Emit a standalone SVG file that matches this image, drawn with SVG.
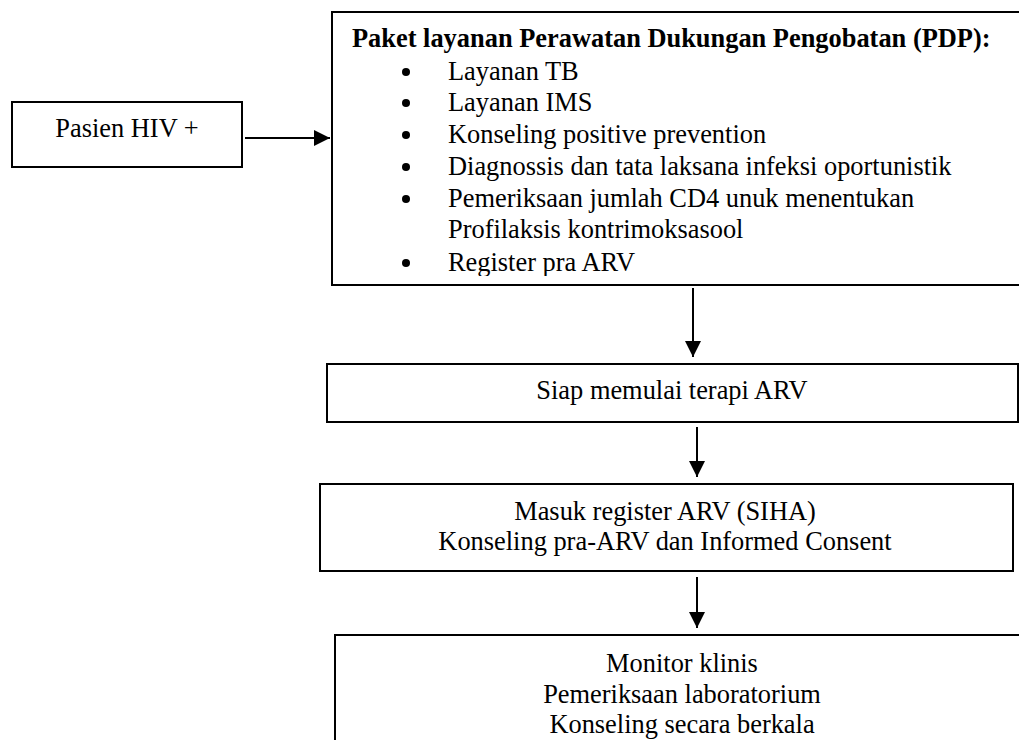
<svg xmlns="http://www.w3.org/2000/svg" width="1019" height="740" viewBox="0 0 1019 740">
  <style>
    .box { fill: #ffffff; stroke: #000000; stroke-width: 2; }
    .t { font-family: "Liberation Serif", "Times New Roman", serif; font-size: 26.4px; fill: #000000; }
    .b { font-weight: bold; }
    .c { text-anchor: middle; }
    .conn { stroke: #000000; stroke-width: 2; fill: none; }
    .dot { fill: #000000; }
  </style>
  <defs>
    <marker id="arrow" viewBox="0 0 16 16" refX="16" refY="8" markerWidth="16" markerHeight="16" markerUnits="userSpaceOnUse" orient="auto">
      <path d="M0,0 L16,8 L0,16 Z" fill="#000000"/>
    </marker>
    <clipPath id="pdpClip">
      <rect x="332" y="12" width="700" height="264"/>
    </clipPath>
  </defs>
  <rect x="0" y="0" width="1019" height="740" fill="#ffffff"/>

  <g id="connectors">
    <line class="conn" x1="245" y1="138" x2="330" y2="138" marker-end="url(#arrow)"/>
    <line class="conn" x1="693" y1="288" x2="693" y2="357" marker-end="url(#arrow)"/>
    <line class="conn" x1="697" y1="427" x2="697" y2="477" marker-end="url(#arrow)"/>
    <line class="conn" x1="697" y1="577" x2="697" y2="628" marker-end="url(#arrow)"/>
  </g>

  <g id="node-pasien">
    <rect class="box" x="12" y="102" width="230" height="65"/>
    <text class="t c" x="127" y="137">Pasien HIV +</text>
  </g>

  <g id="node-pdp">
    <rect class="box" x="332" y="12" width="700" height="273"/>
    <g clip-path="url(#pdpClip)">
      <text class="t b" x="352" y="47">Paket layanan Perawatan Dukungan Pengobatan (PDP):</text>
      <circle class="dot" cx="406" cy="72" r="4"/>
      <text class="t" x="448" y="80">Layanan TB</text>
      <circle class="dot" cx="406" cy="103" r="4"/>
      <text class="t" x="448" y="111">Layanan IMS</text>
      <circle class="dot" cx="406" cy="135" r="4"/>
      <text class="t" x="448" y="143">Konseling positive prevention</text>
      <circle class="dot" cx="406" cy="167" r="4"/>
      <text class="t" x="448" y="175">Diagnossis dan tata laksana infeksi oportunistik</text>
      <circle class="dot" cx="406" cy="199" r="4"/>
      <text class="t" x="448" y="207">Pemeriksaan jumlah CD4 unuk menentukan</text>
      <text class="t" x="448" y="238">Profilaksis kontrimoksasool</text>
      <circle class="dot" cx="406" cy="263" r="4"/>
      <text class="t" x="448" y="271">Register pra ARV</text>
    </g>
  </g>

  <g id="node-siap">
    <rect class="box" x="327" y="364" width="691" height="58"/>
    <text class="t c" x="672" y="399">Siap memulai terapi ARV</text>
  </g>

  <g id="node-masuk">
    <rect class="box" x="320" y="484" width="693" height="87"/>
    <text class="t c" x="665" y="520">Masuk register ARV (SIHA)</text>
    <text class="t c" x="665" y="550">Konseling pra-ARV dan Informed Consent</text>
  </g>

  <g id="node-monitor">
    <rect class="box" x="335" y="635" width="700" height="120"/>
    <text class="t c" x="682" y="672">Monitor klinis</text>
    <text class="t c" x="682" y="703">Pemeriksaan laboratorium</text>
    <text class="t c" x="682" y="733">Konseling secara berkala</text>
  </g>
</svg>
